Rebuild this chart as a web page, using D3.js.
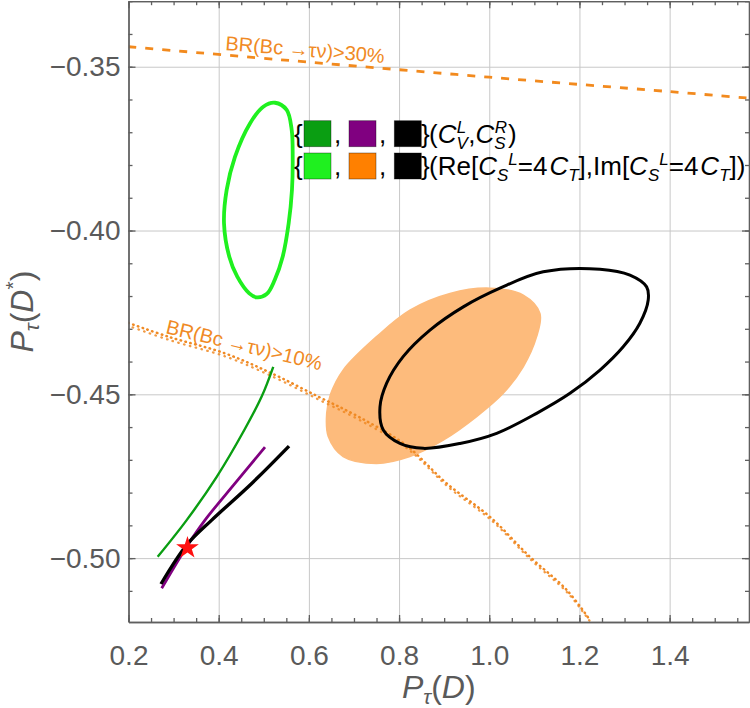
<!DOCTYPE html>
<html lang="en">
  <head>
    <meta charset="UTF-8" />
    <script src="https://d3js.org/d3.v7.min.js"></script>
    <title>P_tau(D) vs P_tau(D*)</title>
    <style type="text/css">
      body {
        margin: 0;
        background: #fff;
      }
      .tick text {
        fill: #5a5a5a;
        font-size: 28px;
        font-family: 'Liberation Sans', Arial, sans-serif;
      }
      .frame path,
      .frame line {
        stroke: #5f5f5f;
        stroke-width: 1.3;
      }
      .grid line {
        stroke: #c8c8c8;
        stroke-width: 1;
      }
      .grid path {
        display: none;
      }
      .axis-label {
        fill: #5a5a5a;
        font-size: 32px;
        font-family: 'Liberation Sans', Arial, sans-serif;
      }
      .legend-text {
        fill: #000;
        font-size: 26px;
        font-family: 'Liberation Sans', Arial, sans-serif;
      }
      .br-label {
        fill: #f08a24;
        font-size: 20px;
        font-family: 'Liberation Sans', Arial, sans-serif;
      }
    </style>
  </head>
  <body>
    <svg width="750" height="708"></svg>
  </body>
  <script type="text/javascript">
    // values: [P_tau(D), P_tau(D*)]
    const xTicks = [0.2, 0.4, 0.6, 0.8, 1.0, 1.2, 1.4];
    const yTicks = [-0.5, -0.45, -0.4, -0.35];

    // BR(Bc -> tau nu) > 30% boundary (dashed)
    const br30 = [[0.2, -0.3439], [0.6, -0.3486], [1.0, -0.3532], [1.4, -0.3576], [1.576, -0.3596]];

    // BR(Bc -> tau nu) > 10% boundary (dotted)
    const br10 = [
      [0.2, -0.4282], [0.2882, -0.4324], [0.414, -0.4375], [0.5175, -0.4436], [0.6208, -0.4507],
      [0.7095, -0.4568], [0.815, -0.4655], [0.9056, -0.4772], [1.0016, -0.4874], [1.0902, -0.4996],
      [1.1716, -0.5097], [1.2233, -0.5189],
    ];

    // (C_V^L, C_S^R) scans
    const cvlLine = [[0.2647, -0.4996], [0.329, -0.4884], [0.3956, -0.4752], [0.4568, -0.4609], [0.4953, -0.4507], [0.521, -0.4416]];
    const purpleLine = [[0.2736, -0.5092], [0.329, -0.4965], [0.3696, -0.4884], [0.4361, -0.4772], [0.5027, -0.4661]];
    const blackLine = [[0.272, -0.5079], [0.329, -0.496], [0.3845, -0.4884], [0.4732, -0.4772], [0.556, -0.4658]];

    // (Re, Im)[C_S^L = 4 C_T] scans
    const greenRing = [
      [0.525, -0.361], [0.5508, -0.3632], [0.5619, -0.3693], [0.5641, -0.3775], [0.5625, -0.3876],
      [0.5552, -0.3978], [0.5419, -0.408], [0.5242, -0.4151], [0.5064, -0.4194], [0.4843, -0.4204],
      [0.4678, -0.4192], [0.4412, -0.4141], [0.4235, -0.408], [0.4118, -0.3978], [0.4177, -0.3876],
      [0.4361, -0.3775], [0.4694, -0.3673], [0.4989, -0.3622],
    ];
    const orangeBlob = [
      [1.0016, -0.4176], [1.0754, -0.4197], [1.1124, -0.4253], [1.105, -0.4324], [1.0754, -0.4416],
      [1.031, -0.4497], [0.972, -0.4568], [0.898, -0.464], [0.824, -0.469], [0.75, -0.4711],
      [0.676, -0.469], [0.643, -0.4629], [0.6395, -0.4558], [0.648, -0.45], [0.676, -0.4426],
      [0.75, -0.4324], [0.824, -0.4243], [0.913, -0.4192],
    ];
    const blackRing = [
      [1.1197, -0.4126], [1.2455, -0.4118], [1.312, -0.4136], [1.349, -0.4172], [1.3525, -0.4212],
      [1.334, -0.4283], [1.297, -0.4355], [1.2455, -0.4426], [1.179, -0.4497], [1.105, -0.4558],
      [1.0164, -0.4619], [0.935, -0.465], [0.8537, -0.4665], [0.802, -0.465], [0.765, -0.4609],
      [0.7577, -0.4538], [0.7725, -0.4466], [0.809, -0.4385], [0.8685, -0.4304], [0.9424, -0.4233],
      [1.0237, -0.4176],
    ];

    // SM point
    const smPoint = [0.3308, -0.4969];

    const legendColors = [
      ['#0a9e12', '#800080', '#000000'],
      ['#1ff01f', '#ff8000', '#000000'],
    ];

    // ---

    const W = 750;
    const H = 708;
    const margin = { top: 1.2, right: 1, bottom: 86, left: 128.5 };
    const plotW = W - margin.left - margin.right;
    const plotH = H - margin.top - margin.bottom;

    const svg = d3.select('svg');

    const xScale = d3.scaleLinear().domain([0.2, 1.576]).range([margin.left, W - margin.right]);
    const yScale = d3.scaleLinear().domain([-0.5195, -0.33]).range([H - margin.bottom, margin.top]);

    const xMinor = d3.range(0.2, 1.576, 0.05);
    const yMinor = d3.range(-0.51, -0.329, 0.01);

    // grid lines
    svg.append('g')
      .attr('class', 'grid')
      .attr('transform', `translate(0, ${H - margin.bottom})`)
      .call(d3.axisBottom(xScale).tickValues(xTicks.slice(1)).tickSize(-plotH).tickFormat(''));
    svg.append('g')
      .attr('class', 'grid')
      .attr('transform', `translate(${margin.left}, 0)`)
      .call(d3.axisLeft(yScale).tickValues(yTicks).tickSize(-plotW).tickFormat(''));

    svg.append('clipPath').attr('id', 'plot-clip')
      .append('rect')
      .attr('x', margin.left).attr('y', margin.top)
      .attr('width', plotW).attr('height', plotH);

    const g = svg.append('g').attr('clip-path', 'url(#plot-clip)');

    const line = d3.line().x((d) => xScale(d[0])).y((d) => yScale(d[1])).curve(d3.curveCatmullRom);
    const ring = d3.line().x((d) => xScale(d[0])).y((d) => yScale(d[1])).curve(d3.curveCatmullRomClosed);

    // orange filled region
    g.append('path').attr('d', ring(orangeBlob)).attr('fill', '#fdbb7c').attr('stroke', '#fdbb7c').attr('stroke-width', 1.5);

    // dashed 30% line
    g.append('path').attr('d', line(br30))
      .attr('fill', 'none').attr('stroke', '#f28a1e').attr('stroke-width', 2.8).attr('stroke-dasharray', '8,9');

    // dotted 10% band (two rows of dots)
    g.append('path').attr('d', line(br10))
      .attr('fill', 'none').attr('stroke', '#f08a24').attr('stroke-width', 2.5)
      .attr('stroke-linecap', 'round').attr('stroke-dasharray', '0.5,4.5');
    g.append('path').attr('d', line(br10))
      .attr('transform', 'translate(1.5, 3.5)')
      .attr('fill', 'none').attr('stroke', '#f08a24').attr('stroke-width', 2.3)
      .attr('stroke-linecap', 'round').attr('stroke-dasharray', '0.5,5.5').attr('stroke-dashoffset', 3).attr('opacity', 0.85);

    // rings
    g.append('path').attr('d', ring(greenRing)).attr('fill', 'none').attr('stroke', '#1ff01f').attr('stroke-width', 3.8);
    g.append('path').attr('d', ring(blackRing)).attr('fill', 'none').attr('stroke', '#000').attr('stroke-width', 3);

    // lines
    g.append('path').attr('d', line(cvlLine)).attr('fill', 'none').attr('stroke', '#0a9e12').attr('stroke-width', 2.4);
    g.append('path').attr('d', line(purpleLine)).attr('fill', 'none').attr('stroke', '#800080').attr('stroke-width', 2.8);
    g.append('path').attr('d', line(blackLine)).attr('fill', 'none').attr('stroke', '#000').attr('stroke-width', 3.4);

    // SM star
    g.append('path')
      .attr('d', d3.symbol().type(d3.symbolStar).size(160)())
      .attr('transform', `translate(${xScale(smPoint[0])}, ${yScale(smPoint[1])})`)
      .attr('fill', '#ff1010');

    // BR labels
    const brLabel = (txt, px, py, angle) => {
      svg.append('text')
        .attr('class', 'br-label')
        .attr('transform', `translate(${xScale(px)}, ${yScale(py)}) rotate(${angle})`)
        .text(txt);
    };
    brLabel('BR(Bc \u2192\u03C4\u03BD)>30%', 0.414, -0.3449, 4.6);
    brLabel('BR(Bc \u2192\u03C4\u03BD)>10%', 0.281, -0.4313, 13.5);

    // frame with inward ticks
    const frame = svg.append('g').attr('class', 'frame');
    const fmtX = d3.format('.1f');
    const fmtY = d3.format('.2f');
    frame.append('g').attr('transform', `translate(0, ${H - margin.bottom})`)
      .call(d3.axisBottom(xScale).tickValues(xMinor).tickSize(-4).tickSizeOuter(0).tickFormat(''));
    frame.append('g').attr('transform', `translate(0, ${H - margin.bottom})`)
      .call(d3.axisBottom(xScale).tickValues(xTicks).tickSize(-7).tickSizeOuter(0).tickPadding(23).tickFormat(fmtX));
    frame.append('g').attr('transform', `translate(0, ${margin.top})`)
      .call(d3.axisTop(xScale).tickValues(xMinor).tickSize(-4).tickSizeOuter(0).tickFormat(''));
    frame.append('g').attr('transform', `translate(0, ${margin.top})`)
      .call(d3.axisTop(xScale).tickValues(xTicks).tickSize(-7).tickSizeOuter(0).tickFormat(''));
    frame.append('g').attr('transform', `translate(${margin.left}, 0)`)
      .call(d3.axisLeft(yScale).tickValues(yMinor).tickSize(-4).tickSizeOuter(0).tickFormat(''));
    frame.append('g').attr('transform', `translate(${margin.left}, 0)`)
      .call(d3.axisLeft(yScale).tickValues(yTicks).tickSize(-7).tickSizeOuter(0).tickPadding(8).tickFormat(fmtY));
    frame.append('g').attr('transform', `translate(${W - margin.right}, 0)`)
      .call(d3.axisRight(yScale).tickValues(yMinor).tickSize(-4).tickSizeOuter(0).tickFormat(''));
    frame.append('g').attr('transform', `translate(${W - margin.right}, 0)`)
      .call(d3.axisRight(yScale).tickValues(yTicks).tickSize(-7).tickSizeOuter(0).tickFormat(''));
    frame.selectAll('.tick text').attr('fill', '#5a5a5a');

    // rich text helper: segments {t, it, sz, off, dx}
    const richText = (sel, segs) => {
      let prev = 0;
      segs.forEach((s) => {
        const off = s.off || 0;
        const ts = sel.append('tspan').attr('dy', off - prev).text(s.t);
        if (s.it) ts.style('font-style', 'italic');
        if (s.sz) ts.style('font-size', s.sz + 'px');
        if (s.dx) ts.attr('dx', s.dx);
        prev = off;
      });
      return sel;
    };

    // axis titles
    richText(
      svg.append('text').attr('class', 'axis-label').attr('text-anchor', 'middle')
        .attr('x', (margin.left + W - margin.right) / 2).attr('y', 698),
      [
        { t: 'P', it: true },
        { t: '\u03C4', it: true, sz: 21, off: 6 },
        { t: '(' },
        { t: 'D', it: true },
        { t: ')' },
      ]
    );
    richText(
      svg.append('text').attr('class', 'axis-label').attr('text-anchor', 'middle')
        .attr('transform', `translate(33, ${(margin.top + H - margin.bottom) / 2}) rotate(-90)`),
      [
        { t: 'P', it: true },
        { t: '\u03C4', it: true, sz: 21, off: 6 },
        { t: '(' },
        { t: 'D', it: true },
        { t: '*', sz: 21, off: -13 },
        { t: ')' },
      ]
    );

    // legend
    const legend = svg.append('g').attr('class', 'legend-text');
    const rowTop = [120.7, 153];
    const boxX = [304, 349, 394.3];
    const rowLabels = [
      [
        { t: '(' },
        { t: 'C', it: true },
        { t: 'V', it: true, sz: 17, off: 6 },
        { t: 'L', it: true, sz: 17, off: -10, dx: -11 },
        { t: ',', dx: 2 },
        { t: 'C', it: true },
        { t: 'S', it: true, sz: 17, off: 6 },
        { t: 'R', it: true, sz: 17, off: -10, dx: -11 },
        { t: ')', dx: 1 },
      ],
      [
        { t: '(Re[' },
        { t: 'C', it: true },
        { t: 'S', it: true, sz: 17, off: 6 },
        { t: 'L', it: true, sz: 17, off: -10 },
        { t: '=4' },
        { t: 'C', it: true, dx: 2 },
        { t: 'T', it: true, sz: 17, off: 6 },
        { t: '],Im[' },
        { t: 'C', it: true },
        { t: 'S', it: true, sz: 17, off: 6 },
        { t: 'L', it: true, sz: 17, off: -10 },
        { t: '=4' },
        { t: 'C', it: true, dx: 2 },
        { t: 'T', it: true, sz: 17, off: 6 },
        { t: '])' },
      ],
    ];
    legendColors.forEach((cols, r) => {
      const top = rowTop[r];
      const base = top + 22;
      legend.append('text').attr('x', 294).attr('y', base).text('{');
      cols.forEach((c, i) => {
        legend.append('rect')
          .attr('x', boxX[i]).attr('y', top).attr('width', 27).attr('height', 26)
          .attr('fill', c).attr('stroke', 'rgba(0,0,0,0.45)').attr('stroke-width', 0.8);
        if (i < 2) legend.append('text').attr('x', boxX[i] + 30).attr('y', base).text(',');
      });
      legend.append('text').attr('x', 421).attr('y', base).text('}');
      richText(legend.append('text').attr('x', 429).attr('y', base), rowLabels[r]);
    });
  </script>
</html>
